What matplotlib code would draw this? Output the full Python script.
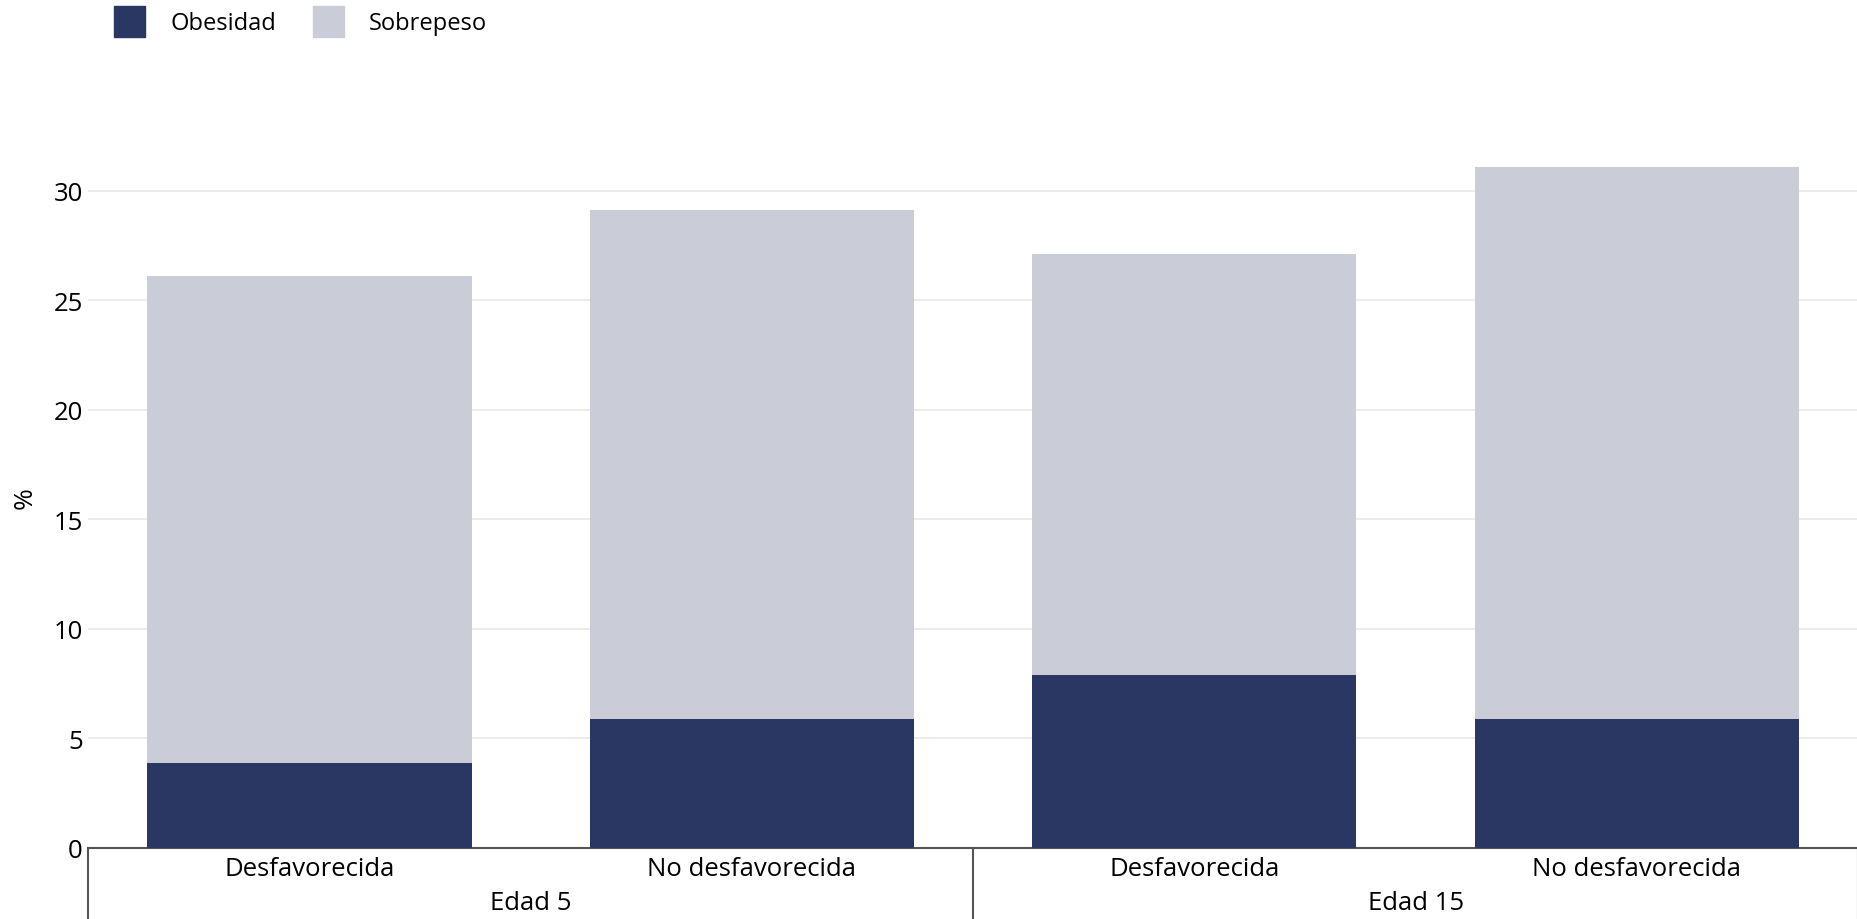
import numpy as np
import matplotlib
matplotlib.use("Agg")
import matplotlib.pyplot as plt
from matplotlib.patches import Rectangle
from matplotlib.transforms import blended_transform_factory

# Data
groups = ["Edad 5", "Edad 15"]
categories = ["Desfavorecida", "No desfavorecida", "Desfavorecida", "No desfavorecida"]
obesidad = [3.9, 5.9, 7.9, 5.9]
sobrepeso = [22.2, 23.2, 19.2, 25.2]
yticks = [0, 5, 10, 15, 20, 25, 30]

color_obes = "#2A3763"
color_sobre = "#CACCD8"

plt.rcParams['font.family'] = ['Open Sans', 'DejaVu Sans']

fig = plt.figure(figsize=(18.58, 9.2), dpi=100)
ax = fig.add_axes([0.0475, 0.0772, 0.9525, 0.7621])

x = np.arange(len(categories))
ax.bar(x, obesidad, width=0.733, color=color_obes, zorder=3)
ax.bar(x, sobrepeso, width=0.733, bottom=obesidad, color=color_sobre, zorder=3)

ax.set_xlim(-0.5, 3.5)
ax.set_ylim(0, 32)
ax.set_yticks(yticks)
ax.set_yticklabels([str(t) for t in yticks], fontsize=18.5)
ax.yaxis.grid(True, color="#EBEBEB", linewidth=1.5, zorder=0)
ax.set_axisbelow(True)
ax.tick_params(axis='y', length=0, pad=4)
ax.set_ylabel("%", fontsize=19, labelpad=11)

# Spines
for s in ["top", "right", "left"]:
    ax.spines[s].set_visible(False)
ax.spines["bottom"].set_color("#555555")
ax.spines["bottom"].set_linewidth(1.5)

# Sub-category labels
ax.set_xticks(x)
ax.set_xticklabels(categories, fontsize=18.5)
ax.tick_params(axis='x', length=0, pad=6)

# Group labels and separators
trans = blended_transform_factory(ax.transData, ax.transAxes)
for i, g in enumerate(groups):
    ax.text(i * 2 + 0.5, -0.078, g, transform=trans, ha="center", va="center", fontsize=18.5)
for sep in [-0.5, 1.5, 3.5]:
    ax.plot([sep, sep], [0, -0.11], transform=trans, color="#555555", linewidth=1.5, clip_on=False)

# Legend
labels = ["Obesidad", "Sobrepeso"]
colors = [color_obes, color_sobre]
box_x = [114, 313]
text_x = [171, 369]
W, H = 1858, 920
for lab, c, bx, tx in zip(labels, colors, box_x, text_x):
    fig.patches.append(Rectangle((bx / W, 1 - 38 / H), 31 / W, 31 / H,
                                 transform=fig.transFigure, color=c))
    fig.text(tx / W, 1 - 24 / H, lab, fontsize=17, va="center", ha="left")

fig.savefig("out.png", dpi=100)
